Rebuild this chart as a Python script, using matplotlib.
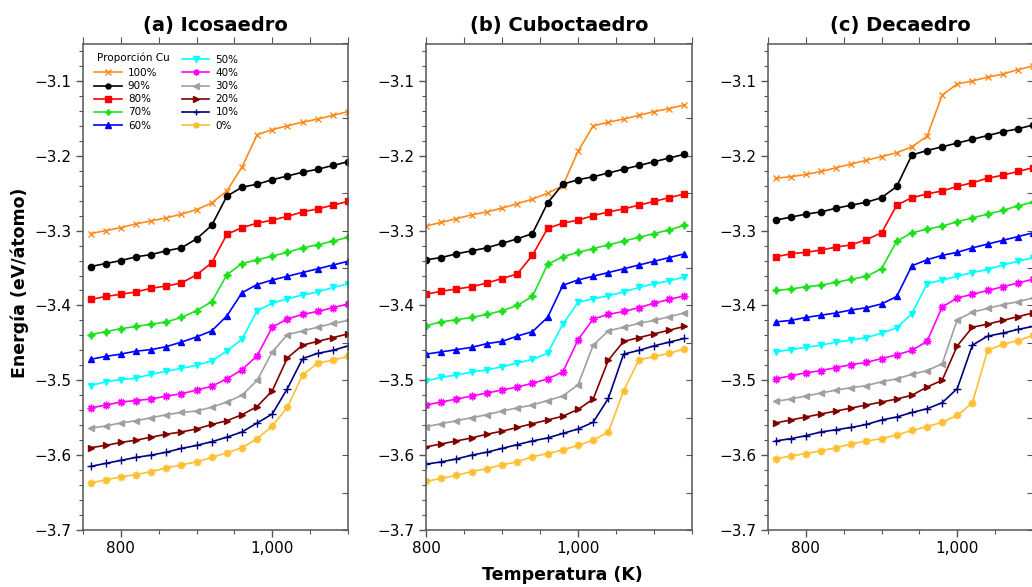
import matplotlib
matplotlib.use("Agg")
import matplotlib.pyplot as plt
from matplotlib.lines import Line2D
from matplotlib.ticker import MultipleLocator, FuncFormatter

# Temperaturas (K)
temps_ico = [760, 780, 800, 820, 840, 860, 880, 900, 920, 940, 960, 980, 1000, 1020, 1040, 1060, 1080, 1100]
temps_cub = [800, 820, 840, 860, 880, 900, 920, 940, 960, 980, 1000, 1020, 1040, 1060, 1080, 1100, 1120, 1140]
temps_dec = [760, 780, 800, 820, 840, 860, 880, 900, 920, 940, 960, 980, 1000, 1020, 1040, 1060, 1080, 1100]

labels = ["100%", "90%", "80%", "70%", "60%", "50%", "40%", "30%", "20%", "10%", "0%"]

# (a) Icosaedro, energia (eV/atomo)
ico_cu100 = [-3.304, -3.300, -3.296, -3.291, -3.287, -3.283, -3.278, -3.272, -3.263, -3.247, -3.215, -3.172, -3.165, -3.160, -3.155, -3.151, -3.146, -3.141]
ico_cu90 = [-3.348, -3.344, -3.340, -3.335, -3.332, -3.327, -3.323, -3.311, -3.293, -3.254, -3.242, -3.238, -3.232, -3.227, -3.222, -3.218, -3.213, -3.208]
ico_cu80 = [-3.392, -3.388, -3.385, -3.382, -3.377, -3.374, -3.370, -3.359, -3.343, -3.305, -3.296, -3.290, -3.286, -3.281, -3.275, -3.271, -3.266, -3.261]
ico_cu70 = [-3.439, -3.435, -3.431, -3.428, -3.425, -3.422, -3.416, -3.407, -3.395, -3.359, -3.344, -3.339, -3.334, -3.329, -3.323, -3.319, -3.314, -3.309]
ico_cu60 = [-3.472, -3.468, -3.465, -3.461, -3.459, -3.455, -3.449, -3.442, -3.434, -3.414, -3.383, -3.372, -3.366, -3.361, -3.356, -3.351, -3.346, -3.341]
ico_cu50 = [-3.507, -3.502, -3.499, -3.497, -3.492, -3.488, -3.484, -3.480, -3.474, -3.461, -3.445, -3.407, -3.397, -3.391, -3.386, -3.382, -3.376, -3.371]
ico_cu40 = [-3.537, -3.533, -3.529, -3.527, -3.525, -3.521, -3.518, -3.513, -3.508, -3.498, -3.486, -3.467, -3.429, -3.418, -3.412, -3.408, -3.403, -3.398]
ico_cu30 = [-3.564, -3.561, -3.557, -3.554, -3.550, -3.546, -3.543, -3.541, -3.536, -3.529, -3.520, -3.500, -3.462, -3.439, -3.434, -3.429, -3.424, -3.420]
ico_cu20 = [-3.590, -3.587, -3.583, -3.580, -3.576, -3.572, -3.569, -3.565, -3.559, -3.554, -3.546, -3.535, -3.514, -3.470, -3.453, -3.448, -3.443, -3.438]
ico_cu10 = [-3.615, -3.611, -3.607, -3.603, -3.600, -3.596, -3.591, -3.587, -3.582, -3.576, -3.569, -3.557, -3.545, -3.511, -3.471, -3.464, -3.460, -3.454]
ico_cu0 = [-3.637, -3.633, -3.629, -3.626, -3.622, -3.617, -3.613, -3.609, -3.603, -3.597, -3.590, -3.578, -3.561, -3.536, -3.493, -3.477, -3.473, -3.468]

# (b) Cuboctaedro
cub_cu100 = [-3.294, -3.289, -3.284, -3.279, -3.275, -3.270, -3.264, -3.258, -3.250, -3.240, -3.194, -3.160, -3.155, -3.151, -3.146, -3.141, -3.137, -3.132]
cub_cu90 = [-3.339, -3.336, -3.331, -3.327, -3.323, -3.317, -3.311, -3.304, -3.263, -3.238, -3.232, -3.228, -3.223, -3.218, -3.213, -3.208, -3.203, -3.198]
cub_cu80 = [-3.385, -3.381, -3.378, -3.375, -3.370, -3.364, -3.358, -3.333, -3.297, -3.290, -3.286, -3.280, -3.275, -3.271, -3.266, -3.261, -3.256, -3.251]
cub_cu70 = [-3.427, -3.422, -3.419, -3.416, -3.412, -3.407, -3.400, -3.388, -3.345, -3.335, -3.329, -3.324, -3.319, -3.314, -3.309, -3.304, -3.299, -3.293]
cub_cu60 = [-3.465, -3.462, -3.459, -3.456, -3.451, -3.448, -3.441, -3.435, -3.416, -3.373, -3.366, -3.361, -3.356, -3.351, -3.346, -3.341, -3.336, -3.331]
cub_cu50 = [-3.501, -3.496, -3.493, -3.489, -3.486, -3.482, -3.477, -3.472, -3.464, -3.425, -3.396, -3.391, -3.387, -3.382, -3.376, -3.371, -3.367, -3.362]
cub_cu40 = [-3.533, -3.529, -3.525, -3.521, -3.517, -3.513, -3.509, -3.504, -3.498, -3.489, -3.446, -3.418, -3.412, -3.408, -3.403, -3.397, -3.392, -3.387]
cub_cu30 = [-3.562, -3.558, -3.554, -3.550, -3.546, -3.541, -3.537, -3.533, -3.527, -3.521, -3.506, -3.453, -3.434, -3.429, -3.424, -3.420, -3.415, -3.410]
cub_cu20 = [-3.589, -3.585, -3.581, -3.577, -3.572, -3.568, -3.563, -3.558, -3.553, -3.548, -3.539, -3.525, -3.473, -3.448, -3.443, -3.438, -3.433, -3.428]
cub_cu10 = [-3.612, -3.609, -3.605, -3.600, -3.596, -3.591, -3.586, -3.581, -3.577, -3.571, -3.565, -3.556, -3.524, -3.465, -3.460, -3.454, -3.449, -3.444]
cub_cu0 = [-3.635, -3.631, -3.627, -3.622, -3.618, -3.613, -3.609, -3.602, -3.598, -3.593, -3.587, -3.580, -3.569, -3.514, -3.473, -3.468, -3.464, -3.458]

# (c) Decaedro
dec_cu100 = [-3.230, -3.228, -3.225, -3.221, -3.216, -3.211, -3.206, -3.201, -3.196, -3.188, -3.174, -3.119, -3.104, -3.100, -3.095, -3.091, -3.085, -3.080]
dec_cu90 = [-3.286, -3.282, -3.278, -3.275, -3.270, -3.266, -3.262, -3.256, -3.241, -3.199, -3.193, -3.188, -3.183, -3.178, -3.173, -3.168, -3.164, -3.159]
dec_cu80 = [-3.335, -3.331, -3.329, -3.326, -3.322, -3.319, -3.312, -3.303, -3.266, -3.256, -3.251, -3.247, -3.241, -3.236, -3.230, -3.226, -3.221, -3.216]
dec_cu70 = [-3.380, -3.378, -3.375, -3.373, -3.369, -3.365, -3.361, -3.351, -3.314, -3.303, -3.298, -3.294, -3.288, -3.283, -3.278, -3.273, -3.267, -3.262]
dec_cu60 = [-3.422, -3.420, -3.416, -3.413, -3.410, -3.406, -3.403, -3.398, -3.388, -3.347, -3.339, -3.333, -3.329, -3.323, -3.318, -3.313, -3.308, -3.303]
dec_cu50 = [-3.462, -3.459, -3.456, -3.453, -3.449, -3.446, -3.443, -3.437, -3.430, -3.411, -3.371, -3.366, -3.361, -3.356, -3.352, -3.346, -3.341, -3.336]
dec_cu40 = [-3.498, -3.494, -3.490, -3.487, -3.483, -3.479, -3.476, -3.471, -3.466, -3.460, -3.448, -3.402, -3.390, -3.385, -3.380, -3.375, -3.370, -3.365]
dec_cu30 = [-3.528, -3.525, -3.521, -3.517, -3.513, -3.510, -3.507, -3.502, -3.498, -3.492, -3.487, -3.478, -3.419, -3.409, -3.404, -3.399, -3.395, -3.390]
dec_cu20 = [-3.557, -3.553, -3.549, -3.545, -3.541, -3.537, -3.533, -3.529, -3.525, -3.520, -3.509, -3.500, -3.454, -3.429, -3.425, -3.420, -3.415, -3.410]
dec_cu10 = [-3.581, -3.578, -3.574, -3.569, -3.566, -3.563, -3.559, -3.553, -3.549, -3.543, -3.538, -3.530, -3.511, -3.453, -3.441, -3.437, -3.432, -3.428]
dec_cu0 = [-3.605, -3.601, -3.598, -3.594, -3.590, -3.585, -3.581, -3.578, -3.573, -3.567, -3.562, -3.556, -3.547, -3.530, -3.460, -3.452, -3.447, -3.440]

colors = ["#ff8a1c", "#000000", "#ff0000", "#1fe01f", "#0000ff", "#00ffff",
          "#ff00ff", "#a0a0a0", "#800000", "#000080", "#ffbf33"]
markers = ["x", "o", "s", (4, 1, 0), "^", "v", (8, 2, 0), "<", ">", "+", (8, 1, 0)]
marker_sizes = [5, 4.5, 5, 5.5, 5, 5, 5.5, 5, 5, 6, 5.5]

panels = [
    ("(a) Icosaedro", temps_ico, (750, 1100),
     [ico_cu100, ico_cu90, ico_cu80, ico_cu70, ico_cu60, ico_cu50,
      ico_cu40, ico_cu30, ico_cu20, ico_cu10, ico_cu0]),
    ("(b) Cuboctaedro", temps_cub, (800, 1150),
     [cub_cu100, cub_cu90, cub_cu80, cub_cu70, cub_cu60, cub_cu50,
      cub_cu40, cub_cu30, cub_cu20, cub_cu10, cub_cu0]),
    ("(c) Decaedro", temps_dec, (750, 1100),
     [dec_cu100, dec_cu90, dec_cu80, dec_cu70, dec_cu60, dec_cu50,
      dec_cu40, dec_cu30, dec_cu20, dec_cu10, dec_cu0]),
]

W, H = 1032, 587
lefts = [83, 426, 768]
widths = [265, 266, 265]
top_px, bottom_px = 43.5, 530
spine_color = "#555555"


def minus(fmt):
    return FuncFormatter(lambda v, p: fmt.format(v).replace("-", "\u2212"))


def style_axes(ax, xlim):
    ax.set_xlim(*xlim)
    ax.set_ylim(-3.7, -3.05)
    ax.xaxis.set_major_locator(MultipleLocator(200))
    ax.xaxis.set_minor_locator(MultipleLocator(50))
    ax.yaxis.set_major_locator(MultipleLocator(0.1))
    ax.yaxis.set_minor_locator(MultipleLocator(0.02))
    ax.xaxis.set_major_formatter(minus("{:,.0f}"))
    ax.yaxis.set_major_formatter(minus("{:.1f}"))
    ax.tick_params(which="major", direction="out", length=5, width=1,
                   labelsize=11, color=spine_color, pad=3)
    ax.tick_params(which="minor", direction="out", length=3, width=0.8,
                   color=spine_color)
    for s in ax.spines.values():
        s.set_color(spine_color)
        s.set_linewidth(1.1)
    top = ax.secondary_xaxis("top")
    top.xaxis.set_major_locator(MultipleLocator(50))
    top.tick_params(direction="out", length=4, width=0.8, labeltop=False,
                    color=spine_color)
    top.spines["top"].set_visible(False)
    right = ax.secondary_yaxis("right")
    right.yaxis.set_major_locator(MultipleLocator(0.05))
    right.tick_params(direction="in", length=4, width=0.8, labelright=False,
                      color=spine_color)
    right.spines["right"].set_visible(False)


def add_legend(ax):
    # first column: a blank row for the heading, then 100%..60%
    handles, labs = ax.get_legend_handles_labels()
    blank = Line2D([], [], linestyle="none")
    ax.legend([blank] + handles, [""] + labs, ncol=2, loc="upper left",
              bbox_to_anchor=(0.0, 1.0), frameon=False, fontsize=7.5,
              handlelength=2.6, handletextpad=0.6, columnspacing=2.4,
              labelspacing=0.3, borderpad=0.6, markerscale=0.8)
    ax.text((97 - lefts[0]) / widths[0], (bottom_px - 58) / (bottom_px - top_px),
            "Proporción Cu", transform=ax.transAxes, fontsize=7.5,
            ha="left", va="center")


fig = plt.figure(figsize=(W / 100, H / 100), dpi=100)

for i, (title, temps, xlim, series) in enumerate(panels):
    ax = fig.add_axes([lefts[i] / W, (H - bottom_px) / H,
                       widths[i] / W, (bottom_px - top_px) / H])
    for y, c, m, ms, lab in zip(series, colors, markers, marker_sizes, labels):
        ax.plot(temps, y, color=c, marker=m, markersize=ms, linewidth=1.2,
                markeredgewidth=1.0, label=lab)
    style_axes(ax, xlim)
    ax.set_title(title, fontsize=14, fontweight="bold", pad=9)
    if i == 0:
        add_legend(ax)

fig.text(0.019, 0.518, "Energía (eV/átomo)", rotation=90, fontsize=12.5,
         fontweight="bold", ha="center", va="center")
fig.text(0.545, 0.02, "Temperatura (K)", fontsize=12.5, fontweight="bold",
         ha="center", va="center")

fig.savefig("out.png", dpi=100)
